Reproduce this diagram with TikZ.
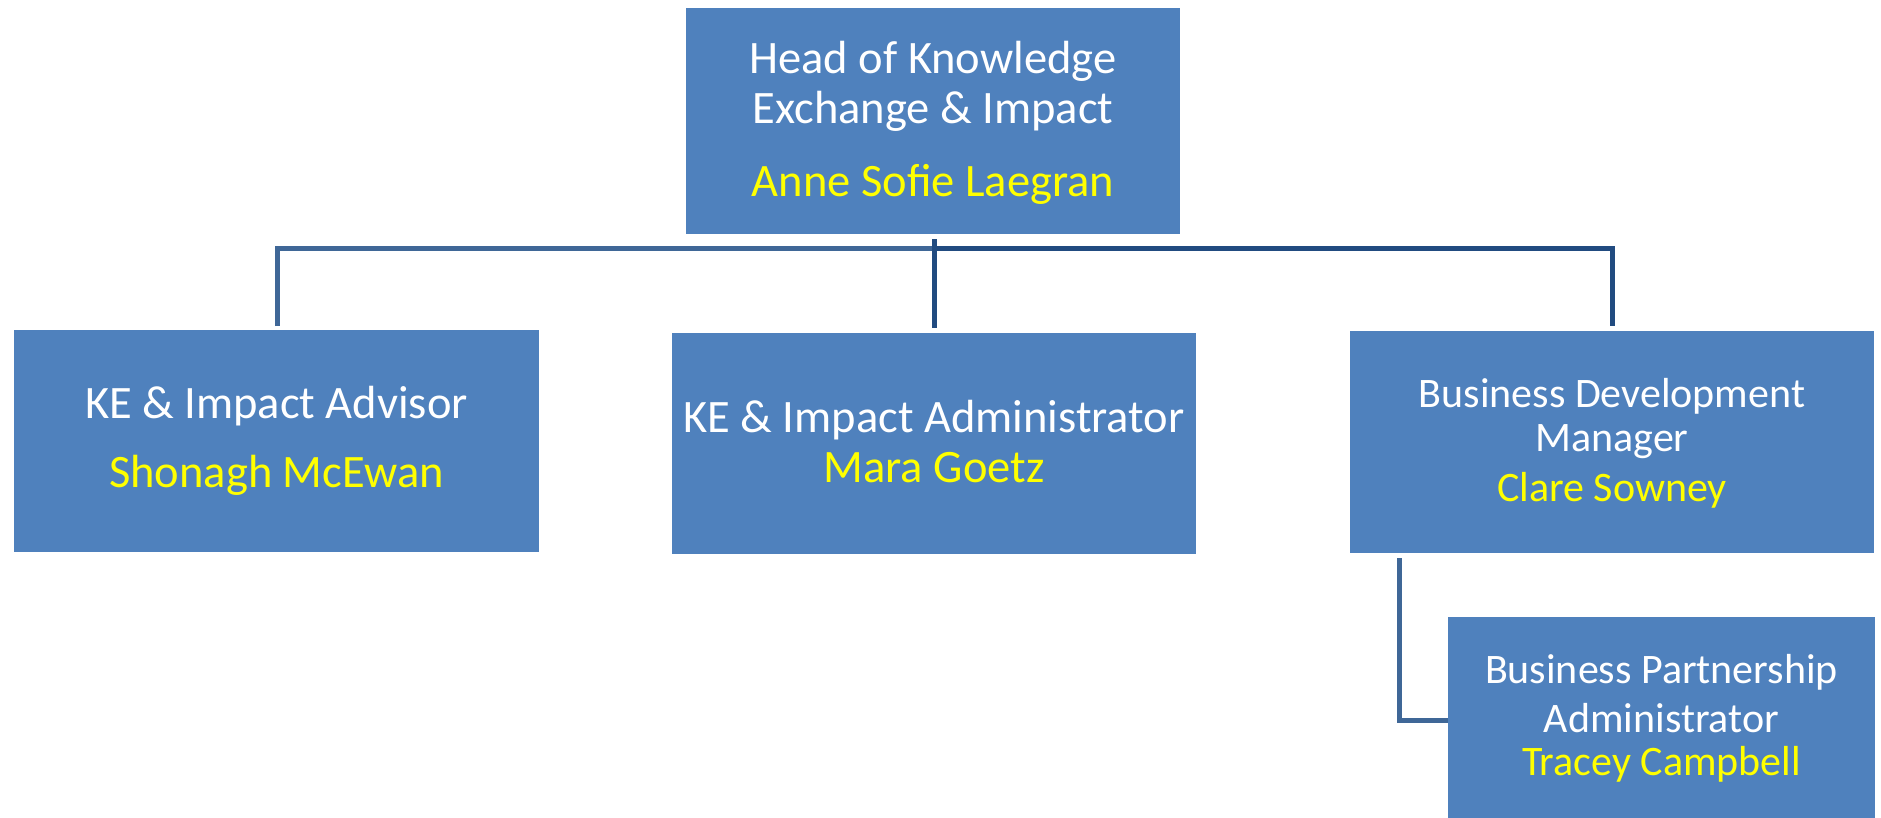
\documentclass[tikz,border=0pt]{standalone}
\usepackage{fontspec}
\setmainfont{Carlito}
\definecolor{boxblue}{HTML}{4F81BD}
\definecolor{lineA}{HTML}{3F6797}
\definecolor{lineB}{HTML}{214B80}
\definecolor{nameyellow}{HTML}{FFFF00}
\begin{document}
\begin{tikzpicture}[x=1pt,y=-1pt,
  orgbox/.style={fill=boxblue,draw=none,inner sep=0pt,outer sep=0pt},
  role/.style={text=white,inner sep=0pt,font=\fontsize{46.5}{54}\selectfont,anchor=center},
  person/.style={text=nameyellow,inner sep=0pt,font=\fontsize{46.5}{54}\selectfont,anchor=center},
  small/.style={font=\fontsize{42}{50}\selectfont},
  linkA/.style={draw=lineA,line width=5pt},
  linkB/.style={draw=lineB,line width=5pt}]
\useasboundingbox (0,0) rectangle (1881,817);
\clip (0,0) rectangle (1881,817);
% boxes
\node[orgbox,minimum width=494pt,minimum height=226pt] (head) at (933,121) {};
\node[orgbox,minimum width=525pt,minimum height=222pt] (adv) at (276.5,441) {};
\node[orgbox,minimum width=524pt,minimum height=221pt] (adm) at (934,443.5) {};
\node[orgbox,minimum width=524pt,minimum height=222pt] (bdm) at (1612,442) {};
\node[orgbox,minimum width=427pt,minimum height=220pt] (bpa) at (1661.5,727) {};
% texts
\node[role] (t1) at (933,61) {Head of Knowledge};
\node[role] (t2) at (933,111) {Exchange \& Impact};
\node[person] (t3) at (933,184) {Anne Sofie Laegran};
\node[role] (t4) at (276.5,406) {KE \& Impact Advisor};
\node[person] (t5) at (276.5,475) {Shonagh McEwan};
\node[role] (t6) at (934,420) {KE \& Impact Administrator};
\node[person] (t7) at (934,468) {Mara Goetz};
\node[role,small] (t8) at (1612,396) {Business Development};
\node[role,small] (t9) at (1612,442) {Manager};
\node[person,small] (t10) at (1612,490) {Clare Sowney};
\node[role,small] (t11) at (1661.5,672) {Business Partnership};
\node[role,small] (t12) at (1661.5,718) {Administrator};
\node[person,small] (t13) at (1661.5,764) {Tracey Campbell};
% connectors
\coordinate (j) at (934,248);
\coordinate (jl) at (277,248);
\coordinate (jr) at (1612,248);
\coordinate (al) at (277,326);
\coordinate (ar) at (1612,326);
\coordinate (am) at (934,328);
\coordinate (b1) at (1399,558);
\coordinate (b2) at (1399,720);
\draw[linkA] (al) -- (jl) -- (j);
\draw[linkB] (j) -- (jr) -- (ar);
\draw[linkB] (head.south -| j) ++(0,5) -- (am);
\draw[linkA] (b1) -- (b2) -- (b2 -| bpa.west);
\end{tikzpicture}
\end{document}
